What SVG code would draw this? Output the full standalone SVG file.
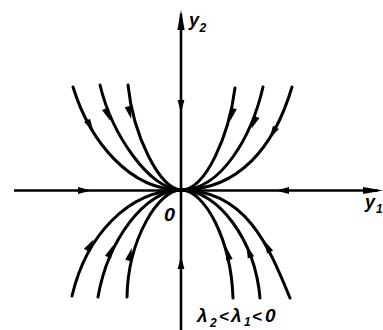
<svg xmlns="http://www.w3.org/2000/svg" xmlns:xlink="http://www.w3.org/1999/xlink" width="383" height="330" viewBox="0 0 383 330">
<style>
.ax{fill:none;stroke:#000;stroke-width:2.6}
.tr{fill:none;stroke:#000;stroke-width:3;stroke-linecap:round}
.lb{font-family:"Liberation Sans","DejaVu Sans",sans-serif;font-style:italic;font-weight:bold;fill:#000}
</style>
<defs>
<path id="ah" d="M3 0 L-10 -3.4 L-10 3.4 Z" fill="#000"/>
<path id="aht" d="M0 0 L-20 -3.6 L-20 3.6 Z" fill="#000"/>
</defs>
<rect width="383" height="330" fill="#fff"/>
<g id="axes">
<path class="ax" d="M181 330 V14"/>
<path class="ax" d="M14 190.5 H378"/>
<use xlink:href="#aht" transform="translate(181 10) rotate(-90)"/>
<use xlink:href="#aht" transform="translate(383 190.5)"/>
<use xlink:href="#ah" transform="translate(181 110) rotate(90)"/>
<use xlink:href="#ah" transform="translate(181 259) rotate(-90)"/>
<use xlink:href="#ah" transform="translate(88 190.5)"/>
<use xlink:href="#ah" transform="translate(279 190.5) rotate(180)"/>
</g>
<g id="trajectories">
<path class="tr" d="M73 87 C90 142 130 190 181 190"/>
<path class="tr" d="M100 85 C112 135 150 190 181 190"/>
<path class="tr" d="M128 85 C133 135 160 190 181 190"/>
<path class="tr" d="M235 88 C229 135 206 190 181 190"/>
<path class="tr" d="M263 87 C252 135 222 190 181 190"/>
<path class="tr" d="M292 87 C274 148 238 190 181 190"/>
<path class="tr" d="M72 296 C86 236 128 190 181 190"/>
<path class="tr" d="M98 297 C108 240 145 190 181 190"/>
<path class="tr" d="M127 297 C128 240 158 190 181 190"/>
<path class="tr" d="M233 298 C231 240 205 190 181 190"/>
<path class="tr" d="M260 298 C255 240 218 190 181 190"/>
<path class="tr" d="M290 298 C268 244 245 190 181 190"/>
<use xlink:href="#ah" transform="translate(92 129) rotate(60.4)"/>
<use xlink:href="#ah" transform="translate(109 118) rotate(67)"/>
<use xlink:href="#ah" transform="translate(130.5 116) rotate(75.6)"/>
<use xlink:href="#ah" transform="translate(231 118) rotate(104.3)"/>
<use xlink:href="#ah" transform="translate(252.5 126) rotate(112.8)"/>
<use xlink:href="#ah" transform="translate(271 136) rotate(119.7)"/>
<use xlink:href="#ah" transform="translate(92 242) rotate(-59)"/>
<use xlink:href="#ah" transform="translate(112 248) rotate(-66.8)"/>
<use xlink:href="#ah" transform="translate(131 251) rotate(-75.4)"/>
<use xlink:href="#ah" transform="translate(227 250) rotate(-103.5)"/>
<use xlink:href="#ah" transform="translate(247.5 248) rotate(-110.3)"/>
<use xlink:href="#ah" transform="translate(265.5 243) rotate(-116.9)"/>
</g>
<g id="labels">
<text class="lb" x="189" y="26" font-size="18">y</text>
<text class="lb" x="199.5" y="32" font-size="12">2</text>
<text class="lb" x="365" y="208" font-size="18">y</text>
<text class="lb" x="376" y="213" font-size="12">1</text>
<text class="lb" x="164" y="221" font-size="19" font-weight="normal" textLength="11" lengthAdjust="spacingAndGlyphs">0</text>
<text class="lb" x="197" y="322" font-size="19">λ</text>
<text class="lb" x="210" y="327" font-size="12">2</text>
<text class="lb" x="219" y="322" font-size="17">&lt;</text>
<text class="lb" x="231" y="322" font-size="19">λ</text>
<text class="lb" x="244" y="326" font-size="12">1</text>
<text class="lb" x="252" y="322" font-size="17">&lt;</text>
<text class="lb" x="265" y="322" font-size="19">0</text>
</g>
</svg>
